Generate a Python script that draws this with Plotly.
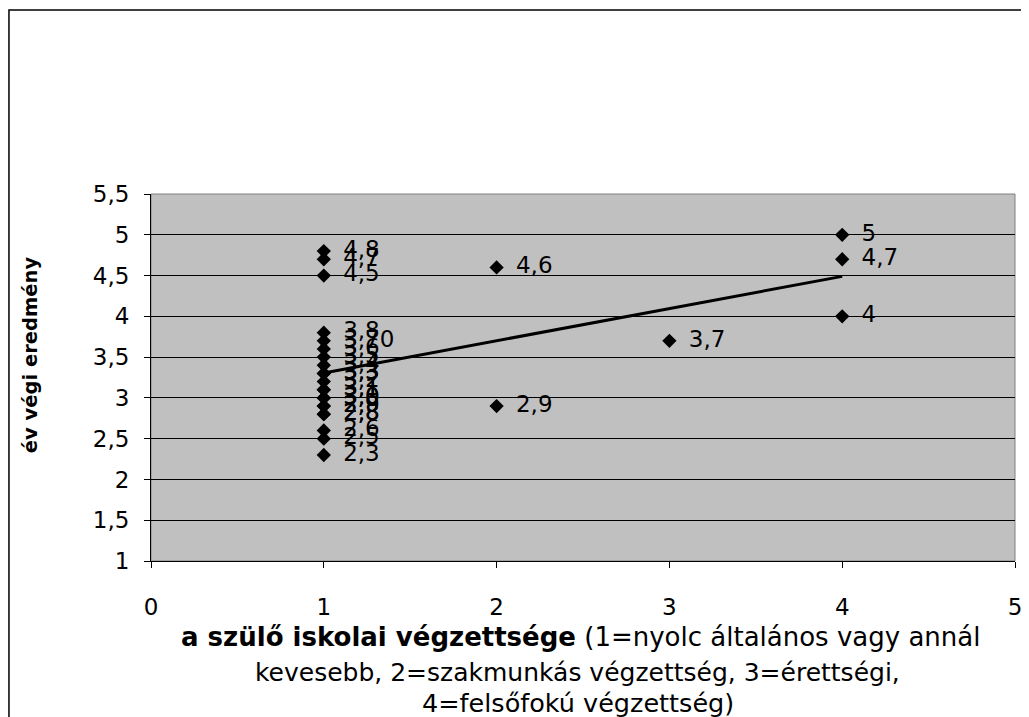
import numpy as np
import plotly.graph_objects as go

# a szülő iskolai végzettsége (x) és év végi eredmény (y)
szulo_vegzettseg = [1, 1, 1, 1, 1, 1, 1, 1, 1, 1, 1, 1, 1, 1, 1, 1, 1,
                    1, 1, 1, 1, 1,
                    2, 2, 3, 4, 4, 4]
ev_vegi_eredmeny = [4.8, 4.7, 4.5, 3.8, 3.7, 3.6, 3.5, 3.4, 3.3, 3.2, 3.1, 3.0, 2.9, 2.8, 2.6, 2.5, 2.3,
                    3.0, 2.9, 2.8, 3.1, 3.3,
                    4.6, 2.9, 3.7, 5.0, 4.7, 4.0]
cimkek = ["4,8", "4,7", "4,5", "3,8", "3,70", "3,6", "3,5", "3,4", "3,3", "3,2", "3,1", "3,0", "2,9", "2,8", "2,6", "2,5", "2,3",
          "3,0", "2,9", "2,8", "3,1", "3,3",
          "4,6", "2,9", "3,7", "5", "4,7", "4"]

y_tickek = [1, 1.5, 2, 2.5, 3, 3.5, 4, 4.5, 5, 5.5]
y_ticktext = ["1", "1,5", "2", "2,5", "3", "3,5", "4", "4,5", "5", "5,5"]
x_tickek = [0, 1, 2, 3, 4, 5]

x_cim_sorok = [
    "<b>a szülő iskolai végzettsége</b> (1=nyolc általános vagy annál",
    "kevesebb, 2=szakmunkás végzettség, 3=érettségi,",
    "4=felsőfokú végzettség)",
]

FONT = "DejaVu Sans, Liberation Sans, Arial, sans-serif"

# lineáris trendvonal
meredekseg, tengelymetszet = np.polyfit(szulo_vegzettseg, ev_vegi_eredmeny, 1)
trend_x = [min(szulo_vegzettseg), max(szulo_vegzettseg)]
trend_y = [meredekseg * x + tengelymetszet for x in trend_x]

fig = go.Figure()
fig.add_trace(go.Scatter(
    x=szulo_vegzettseg, y=ev_vegi_eredmeny, mode="markers+text",
    text=cimkek, texttemplate="\u2002%{text}", textposition="middle right",
    textfont=dict(family=FONT, size=23, color="#000000"),
    marker=dict(symbol="diamond", size=11, color="#000000"),
    cliponaxis=False, showlegend=False, hoverinfo="skip",
))
fig.add_trace(go.Scatter(
    x=trend_x, y=trend_y, mode="lines",
    line=dict(color="#000000", width=3), showlegend=False, hoverinfo="skip",
))

annotations = [
    dict(text="<b>év végi eredmény</b>", textangle=-90, xref="paper", yref="paper",
         x=-0.14, y=0.561, xanchor="center", yanchor="middle", showarrow=False,
         font=dict(size=19.5)),
]
for sor, (xp, yp, meret) in zip(x_cim_sorok, [(0.497, -0.207, 26), (0.494, -0.3025, 25),
                                               (0.494, -0.386, 25.5)]):
    annotations.append(dict(text=sor, xref="paper", yref="paper", x=xp, y=yp,
                            xanchor="center", yanchor="middle", showarrow=False,
                            font=dict(size=meret)))

fig.update_layout(
    width=1029, height=717,
    margin=dict(l=143, r=22, t=186, b=164),
    paper_bgcolor="#FFFFFF", plot_bgcolor="#C0C0C0",
    font=dict(family=FONT, size=23, color="#000000"),
    xaxis=dict(range=[0, 5], tickvals=x_tickek, showgrid=False, zeroline=False,
               showline=True, linecolor="#000000", linewidth=1,
               ticks="outside", ticklen=6, tickcolor="#000000",
               ticklabelstandoff=19, tickfont=dict(size=23)),
    yaxis=dict(range=[1, 5.5], tickvals=y_tickek, ticktext=y_ticktext,
               showgrid=True, gridcolor="#000000", gridwidth=1, zeroline=False,
               showline=True, linecolor="#000000", linewidth=1,
               ticks="outside", ticklen=6, tickcolor="#000000",
               ticklabelstandoff=10, tickfont=dict(size=23)),
    shapes=[
        # a diagramterület szegélye
        dict(type="rect", xref="paper", yref="paper", x0=0, x1=1, y0=0, y1=1,
             line=dict(color="#808080", width=1), layer="below"),
        # a teljes diagram kerete
        dict(type="rect", xref="paper", yref="paper", x0=-0.1644, x1=1.06, y0=-0.5, y1=1.5014,
             line=dict(color="#000000", width=1.5)),
    ],
    annotations=annotations,
)

fig.write_html("out.html")
